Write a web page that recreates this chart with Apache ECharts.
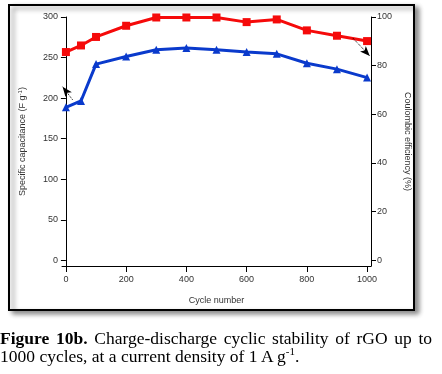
<!DOCTYPE html>
<html>
<head>
<meta charset="utf-8">
<script src="https://cdn.jsdelivr.net/npm/echarts@6/dist/echarts.min.js"></script>
<style>
html,body{margin:0;padding:0;background:#fff;}
#wrap{position:relative;width:442px;height:374px;overflow:hidden;}
#chart{position:absolute;left:0;top:0;width:442px;height:374px;}
.cap{position:absolute;left:0;width:432px;font-family:"Liberation Serif","Times New Roman",serif;font-size:17.5px;line-height:18px;color:#000;white-space:nowrap;}
#cap1{top:329px;text-align:justify;text-align-last:justify;white-space:normal;}
#cap2{top:347px;}
.cap sup{font-size:11px;line-height:0;vertical-align:super;}
</style>
</head>
<body>
<div id="wrap">
<div id="chart"></div>
<div class="cap" id="cap1"><b>Figure 10b.</b> Charge-discharge cyclic stability of rGO up to</div>
<div class="cap" id="cap2">1000 cycles, at a current density of 1 A g<sup>-1</sup>.</div>
</div>
<script>
// ---- data ----
var cycles = [0, 50, 100, 200, 300, 400, 500, 600, 700, 800, 900, 1000];
var capacitance = [188.7, 196.5, 241.9, 251.3, 259.6, 261.7, 259.6, 256.7, 254.6, 243, 235.7, 225.3];
var efficiency = [85.6, 88.3, 91.8, 96.4, 99.8, 99.8, 99.8, 97.9, 99.0, 94.5, 92.3, 90.1];
var xTicks = [0, 200, 400, 600, 800, 1000];
var leftTicks = [0, 50, 100, 150, 200, 250, 300];
var rightTicks = [0, 20, 40, 60, 80, 100];
// arrow annotations (data units): [from, to]
var capArrow = [[22, 198], [-11, 214]];
var effArrow = [[953, 91.3], [1009, 84]];

var chart = echarts.init(document.getElementById('chart'), null, {renderer: 'canvas'});
var lab = {fontFamily: 'Liberation Sans, Arial, sans-serif', fontSize: 9, color: '#333'};
function pair(a, b) { return a.map(function (v, i) { return [v, b[i]]; }); }
function plain(v) { return String(v); }

chart.setOption({
  animation: false,
  backgroundColor: '#fff',
  graphic: [{
    type: 'rect', z: -10, silent: true,
    shape: {x: 9, y: 5, width: 405, height: 305},
    style: {fill: '#fff', stroke: '#000', lineWidth: 2, shadowColor: 'rgba(0,0,0,0.45)', shadowBlur: 5, shadowOffsetX: 4, shadowOffsetY: 3}
  }],
  grid: {left: 62, right: 71, top: 17, bottom: 108, containLabel: false},
  xAxis: {
    type: 'value', min: -13, max: 1013,
    name: 'Cycle number', nameLocation: 'middle', nameGap: 30,
    nameTextStyle: lab,
    axisLine: {show: true, onZero: false, lineStyle: {color: '#000', width: 1}},
    axisTick: {show: true, length: 6, lineStyle: {color: '#000'}, customValues: xTicks},
    axisLabel: Object.assign({margin: 9, customValues: xTicks, formatter: plain}, lab),
    splitLine: {show: false}
  },
  yAxis: [{
    type: 'value', min: -7, max: 300, position: 'left',
    name: '{a|Specific capacitance (F g}{s|-1}{a|)}', nameLocation: 'middle', nameGap: 34, nameRotate: 90,
    nameTextStyle: Object.assign({rich: {a: lab, s: {fontFamily: lab.fontFamily, fontSize: 6, color: '#333', verticalAlign: 'top', padding: [0, 0, 5, 0]}}}, lab),
    axisLine: {show: true, lineStyle: {color: '#000', width: 1}},
    axisTick: {show: true, length: 5, lineStyle: {color: '#000'}, customValues: leftTicks},
    axisLabel: Object.assign({margin: 4, customValues: leftTicks, formatter: plain}, lab),
    splitLine: {show: false}
  }, {
    type: 'value', min: -2.33, max: 100, position: 'right',
    name: 'Coulombic efficiency (%)', nameLocation: 'middle', nameGap: 30, nameRotate: -90,
    nameTextStyle: lab,
    axisLine: {show: true, lineStyle: {color: '#000', width: 1}},
    axisTick: {show: true, length: 5, lineStyle: {color: '#000'}, customValues: rightTicks},
    axisLabel: Object.assign({margin: 6, customValues: rightTicks, formatter: plain}, lab),
    splitLine: {show: false}
  }],
  series: [{
    name: 'Specific capacitance', type: 'line', yAxisIndex: 0,
    data: pair(cycles, capacitance),
    symbol: 'triangle', symbolSize: 8,
    lineStyle: {color: '#0a3acc', width: 3},
    itemStyle: {color: '#0a3acc'},
    markLine: {
      silent: true, symbol: ['none', 'arrow'], symbolSize: [6, 10],
      lineStyle: {color: '#000', type: 'dotted', width: 1},
      label: {show: false},
      data: [[{coord: capArrow[0]}, {coord: capArrow[1]}]]
    }
  }, {
    name: 'Coulombic efficiency', type: 'line', yAxisIndex: 1,
    data: pair(cycles, efficiency),
    symbol: 'rect', symbolSize: 8,
    lineStyle: {color: '#f50a0a', width: 3},
    itemStyle: {color: '#f50a0a'},
    markLine: {
      silent: true, symbol: ['none', 'arrow'], symbolSize: [6, 10],
      lineStyle: {color: '#000', type: 'dotted', width: 1},
      label: {show: false},
      data: [[{coord: effArrow[0]}, {coord: effArrow[1]}]]
    }
  }]
});
</script>
</body>
</html>
